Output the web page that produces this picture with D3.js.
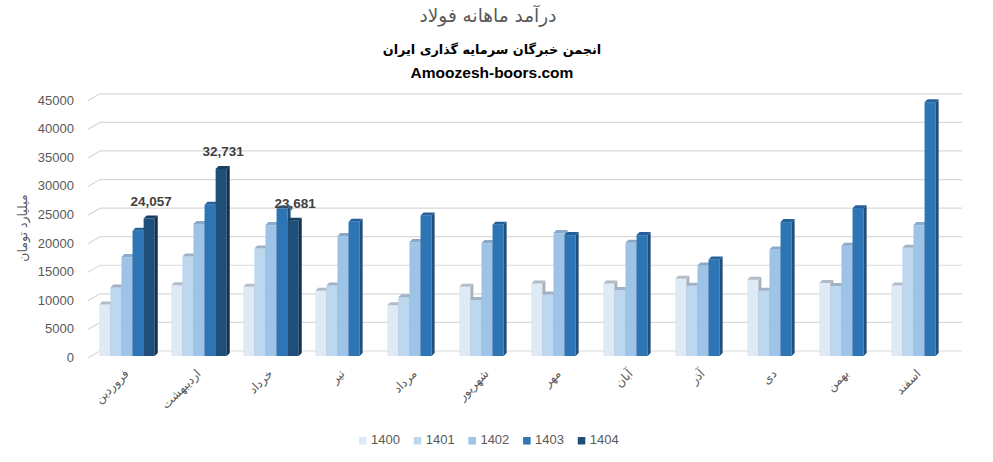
<!DOCTYPE html>
<html><head><meta charset="utf-8">
<script src="https://cdn.jsdelivr.net/npm/d3@7"></script>
<style>body{margin:0;background:#fff}svg{display:block}</style>
</head><body>
<svg id="c" width="993" height="462"></svg>
<script>
const months = ["فروردین","اردیبهشت","خرداد","تیر","مرداد","شهریور","مهر","آبان","آذر","دی","بهمن","اسفند"];
const years = ["1400","1401","1402","1403","1404"];
const v1400 = [9000, 12400, 12100, 11400, 8900, 12100, 12700, 12700, 13500, 13350, 12760, 12350];
const v1401 = [12000, 17400, 18800, 12350, 10300, 9800, 10780, 11540, 12300, 11400, 12240, 18940];
const v1402 = [17300, 23100, 22900, 20980, 19930, 19750, 21500, 19800, 15850, 18650, 19300, 22900];
const v1403 = [21900, 26450, 25800, 23480, 24600, 22960, 21150, 21150, 16900, 23430, 25870, 44400];
const v1404 = [24057, 32731, 23681, null, null, null, null, null, null, null, null, null];
const yTicks = [0,5000,10000,15000,20000,25000,30000,35000,40000,45000];
const series = [v1400, v1401, v1402, v1403, v1404];
const labelled = [true,true,true,false,false,false,false,false,false,false,false,false];

const front = ["#DEEBF7","#BDD7EE","#9DC3E6","#2E75B6","#1F4E79"];
const tops  = ["#b3bcc6","#9fb2c7","#8aa8c8","#24619b","#173e63"];
const sides = ["#a9b1ba","#909fae","#7f97b0","#1f4f7e","#142f4b"];

const svg = d3.select("#c");
const y = d3.scaleLinear().domain([0,45000]).range([356, 98.8]);
const x0 = d3.scaleBand().domain(months).range([91, 955]).paddingInner(0.23).paddingOuter(0.115);
const x1 = d3.scaleBand().domain(years).range([0, x0.bandwidth()]);
const dx = 3, dy = 3;

// gridlines (back wall)
const g = svg.append("g");
yTicks.forEach(t => {
  const f = y(t);
  g.append("path").attr("d", `M88,${f+2}L100,${f-5}H962`).attr("fill","none").attr("stroke","#d9d9d9").attr("stroke-width",1.2);
});

// y labels
svg.append("g").selectAll("text").data(yTicks).join("text")
  .attr("x",74).attr("y",t=>y(t)+2.5).attr("text-anchor","end").attr("dominant-baseline","middle")
  .attr("font-family","Liberation Sans, Arial, sans-serif").attr("font-size",13).attr("fill","#595959")
  .text(t=>t);

// bars
const bars = svg.append("g");
months.forEach((m,i) => {
  years.forEach((yr,k) => {
    const v = series[k][i];
    if (v == null) return;
    const xl = x0(m) + x1(yr), w = x1.bandwidth(), yt = y(v), yb = y(0);
    bars.append("rect").attr("x",xl).attr("y",yt).attr("width",w).attr("height",yb-yt).attr("fill",front[k]);
    bars.append("path").attr("d",`M${xl+w},${yt}L${xl+w+dx},${yt-dy}V${yb-dy}L${xl+w},${yb}Z`).attr("fill",sides[k]);
    bars.append("path").attr("d",`M${xl},${yt}L${xl+dx},${yt-dy}H${xl+w+dx}L${xl+w},${yt}Z`).attr("fill",tops[k]);
  });
  if (labelled[i]) {
    const v = v1404[i];
    const cx = x0(m) + x1("1404") + x1.bandwidth()/2 + 2;
    svg.append("text").attr("x",cx).attr("y",y(v)-16).attr("text-anchor","middle").attr("dominant-baseline","middle")
      .attr("font-family","Liberation Sans, Arial, sans-serif").attr("font-weight","bold").attr("font-size",13.5).attr("fill","#404040")
      .text(d3.format(",")(v));
  }
});

// x labels
svg.append("g").selectAll("text").data(months).join("text")
  .attr("transform",m=>`translate(${x0(m)+x0.bandwidth()/2},372) rotate(-45)`)
  .attr("text-anchor","end").attr("dominant-baseline","middle")
  .attr("font-family","DejaVu Sans, sans-serif").attr("font-size",12).attr("fill","#595959")
  .text(m=>m);

// y title
svg.append("text").attr("transform","translate(23,228) rotate(-90)").attr("text-anchor","middle").attr("dominant-baseline","middle")
  .attr("font-family","DejaVu Sans, sans-serif").attr("font-size",12.5).attr("fill","#595959").text("میلیارد تومان");

// titles
svg.append("text").attr("x",488).attr("y",17).attr("text-anchor","middle").attr("dominant-baseline","middle")
  .attr("font-family","DejaVu Sans, sans-serif").attr("font-size",18.5).attr("fill","#595959").text("درآمد ماهانه فولاد");
svg.append("text").attr("x",492).attr("y",50).attr("text-anchor","middle").attr("dominant-baseline","middle")
  .attr("font-family","DejaVu Sans, sans-serif").attr("font-weight","bold").attr("font-size",12.8).attr("fill","#000").text("انجمن خبرگان سرمایه گذاری ایران");
svg.append("text").attr("x",492).attr("y",74).attr("text-anchor","middle").attr("dominant-baseline","middle")
  .attr("font-family","Liberation Sans, Arial, sans-serif").attr("font-weight","bold").attr("font-size",15.5).attr("fill","#000").text("Amoozesh-boors.com");

// legend
const leg = svg.append("g").selectAll("g").data(years).join("g")
  .attr("transform",(d,i)=>`translate(${359 + i*54.7},441)`);
leg.append("rect").attr("x",0).attr("y",-4).attr("width",7.5).attr("height",7.5).attr("fill",(d,i)=>front[i]);
leg.append("text").attr("x",12).attr("y",0).attr("dominant-baseline","middle")
  .attr("font-family","Liberation Sans, Arial, sans-serif").attr("font-size",13).attr("fill","#595959").text(d=>d);
</script>
</body></html>
